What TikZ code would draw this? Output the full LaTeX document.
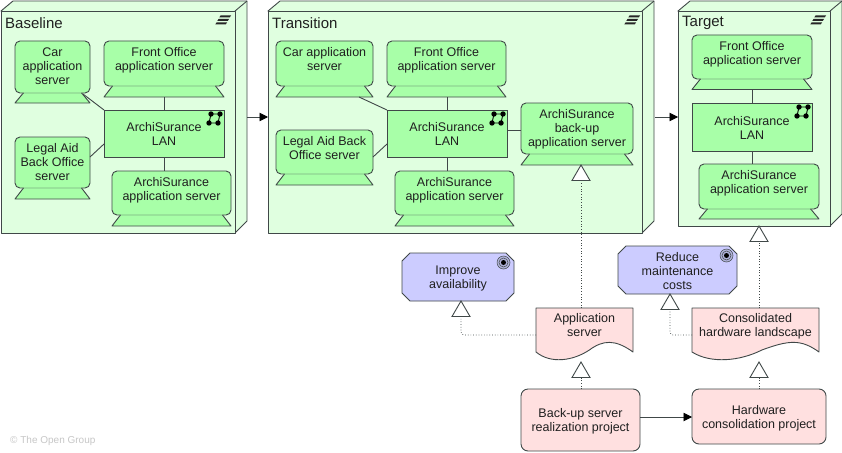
\documentclass[tikz,border=0pt]{standalone}
\usepackage{fontspec}
\setmainfont{Liberation Sans}
\usetikzlibrary{calc,fit,arrows.meta}
\definecolor{nodefill}{HTML}{E0FFE0}
\definecolor{devfill}{HTML}{A8FFA8}
\definecolor{goalfill}{HTML}{CCCCFF}
\definecolor{implfill}{HTML}{FFE0E0}
\definecolor{ink}{HTML}{404848}
\definecolor{txt}{HTML}{202020}
\tikzset{
  frame/.style={inner sep=0pt,outer sep=0pt},
  edge3d/.style={draw=ink,line width=0.9pt,line join=round},
  label3d/.style={font=\fontsize{15}{17}\selectfont,text=txt,anchor=west,inner sep=0pt},
  lbl/.style={font=\fontsize{12.5}{14}\selectfont,text=txt,align=center,inner sep=0pt},
  toplbl/.style={lbl,anchor=north},
  conn/.style={draw=ink,line width=0.9pt},
  flow/.style={conn,-{Triangle[length=8.5pt,width=8.5pt,fill=black,color=black]}},
  real/.style={draw=ink,line width=0.7pt,dotted},
  tri/.style={draw=ink,line width=0.9pt,fill=white,line join=miter},
}
% \nodebox{name}{x1}{y1}{x2}{y2}{title}
\newcommand{\nodebox}[6]{%
  \path[edge3d,fill=nodefill] (#2,#3) -- (#2+12,#3-10) -- (#4+12,#3-10) -- (#4+12,#5-12) -- (#4,#5) -- cycle;
  \draw[edge3d] (#4,#3) -- (#4+12,#3-10);
  \path[edge3d,fill=nodefill] (#2,#3) rectangle (#4,#5);
  \node[frame,fit={(#2,#3)(#4,#5)}] (#1) {};
  \node[label3d] (#1-title) at (#2+4,#3+12) {#6};
}
\newcommand{\nodeicon}[2]{%
  \fill[black!85] (#1-15,#2) ++(4.5,0) -- ++(10.5,0) -- ++(-1.2,1.8) -- ++(-10.5,0) -- cycle;
  \fill[black!85] (#1-15,#2+3.5) ++(2.5,0) -- ++(10.5,0) -- ++(-1.2,1.8) -- ++(-10.5,0) -- cycle;
  \fill[black!85] (#1-15,#2+7) ++(0.5,0) -- ++(10.5,0) -- ++(-1.2,1.8) -- ++(-10.5,0) -- cycle;
}
% \device{name}{x1}{y1}{x2}{bodybottom}{bottom}{text}
\newcommand{\device}[7]{%
  \path[draw=ink,line width=0.9pt,fill=devfill,line join=round] (#2+10,#5-2) -- (#2,#6) -- (#4,#6) -- (#4-10,#5-2) -- cycle;
  \path[draw=ink,line width=0.9pt,fill=devfill,rounded corners=5pt] (#2,#3) rectangle (#4,#5);
  \draw[devfill!85!ink,line width=1.2pt] (#2+9,#5) -- (#4-9,#5);
  \node[frame,fit={(#2,#3)(#4,#6)}] (#1) {};
  \node[toplbl] (#1-text) at ($(#1.north)+(0,6.5)$) {#7};
}
% \lan{name}{x1}{y1}{x2}{y2}
\newcommand{\lan}[5]{%
  \node[frame,draw=ink,line width=0.9pt,fill=devfill,fit={(#2,#3)(#4,#5)}] (#1) {};
  \node[lbl] (#1-text) at ($(#1.center)+(0,0.5)$) {ArchiSurance\\LAN};
  \draw[black,line width=0.9pt] (#4-4,#3+4) -- (#4-13,#3+4) -- (#4-15,#3+13) -- (#4-6,#3+13) -- (#4-4,#3+4);
  \fill[black] (#4-13,#3+4) circle (2.7pt) (#4-4,#3+4) circle (2.7pt) (#4-15,#3+13) circle (2.7pt) (#4-6,#3+13) circle (2.7pt);
}
% \goal{name}{x1}{y1}{x2}{y2}{text}
\newcommand{\goalbox}[6]{%
  \path[draw=ink,line width=0.9pt,fill=goalfill] (#2+8,#3) -- (#4-8,#3) -- (#4,#3+8) -- (#4,#5-8) -- (#4-8,#5) -- (#2+8,#5) -- (#2,#5-8) -- (#2,#3+8) -- cycle;
  \node[frame,fit={(#2,#3)(#4,#5)}] (#1) {};
  \node[lbl] (#1-text) at ($(#1.center)+(0,1.2)$) {#6};
  \draw[ink,line width=0.5pt,fill=goalfill!80!ink] (#4-10.5,#3+9.5) circle (6.5pt);
  \draw[ink,line width=0.5pt] (#4-10.5,#3+9.5) circle (4.5pt);
  \fill[black] (#4-10.5,#3+9.5) circle (2.5pt);
}
% \docbox{name}{x1}{y1}{x2}{y2}{text}
\newcommand{\docbox}[6]{%
  \path[draw=ink,line width=0.9pt,fill=implfill,line join=round] (#2,#3) -- (#4,#3) -- (#4,#5)
    .. controls (#4-18,#5-13) and (#4-30,#5-12) .. ($(#2,#5)!0.55!(#4,#5)+(0,-2)$)
    .. controls ($(#2,#5)!0.38!(#4,#5)+(0,9)$) and ($(#2,#5)!0.15!(#4,#5)+(0,12)$) .. (#2,#5) -- cycle;
  \node[frame,fit={(#2,#3)(#4,#5)}] (#1) {};
  \node[toplbl] (#1-text) at ($(#1.north)+(0,5.5)$) {#6};
}
\newcommand{\projbox}[6]{%
  \node[frame,draw=ink,line width=0.9pt,fill=implfill,rounded corners=7pt,fit={(#2,#3)(#4,#5)}] (#1) {};
  \node[lbl] (#1-text) at ($(#1.center)+(0,1.3)$) {#6};
}
% triangle with apex at named coordinate, pointing up
\newcommand{\uptri}[1]{%
  \path[tri] (#1) -- ++(9,15.5) -- ++(-18,0) -- cycle;
}
\begin{document}
\begin{tikzpicture}[x=1pt,y=-1pt]
\useasboundingbox[fill=white] (0,0) rectangle (842,452);

% ---------- Baseline ----------
\nodebox{baseline}{1}{11}{235}{233}{Baseline}
\nodeicon{231}{15.5}
\device{bcar}{15}{41}{90}{93}{103}{Car\\application\\server}
\device{bfront}{104}{41}{224}{86}{97}{Front Office\\application server}
\device{blegal}{15}{137}{90}{188}{199}{Legal Aid\\Back Office\\server}
\device{bas}{112}{171}{231}{215}{226}{ArchiSurance\\application server}
\lan{blan}{104}{110}{224}{157}
\draw[conn] ($(bcar.south east)+(-7,-9)$) -- (blan.north west);
\draw[conn] (bfront.south -| blan.north) -- (blan.north);
\draw[conn] ($(blegal.north east)+(0,20)$) -- ($(blan.west)+(0,10.5)$);
\draw[conn] (blan.south) -- (blan.south |- bas.north);

% ---------- Transition ----------
\nodebox{transition}{268}{11}{642}{233}{Transition}
\nodeicon{640}{15.5}
\device{tcar}{276}{41}{373}{86}{97}{Car application\\server}
\device{tfront}{387}{41}{506}{86}{97}{Front Office\\application server}
\device{tlegal}{276}{130}{373}{174}{185}{Legal Aid Back\\Office server}
\device{tas}{395}{171}{514}{215}{226}{ArchiSurance\\application server}
\device{tbackup}{521}{103}{633}{154}{165}{ArchiSurance\\back-up\\application server}
\lan{tlan}{387}{110}{507}{157}
\draw[conn] ($(tcar.south)+(34.5,0)$) -- (tlan.north west);
\draw[conn] (tfront.south -| tlan.north) -- (tlan.north);
\draw[conn] ($(tlegal.north east)+(0,27)$) -- ($(tlan.west)+(0,10.5)$);
\draw[conn] (tlan.south) -- (tlan.south |- tas.north);
\draw[conn] ($(tlan.east)+(0,-3.5)$) -- ($(tbackup.west)+(0,-4)$);

% ---------- Target ----------
\nodebox{target}{678}{11}{830}{226}{Target}
\nodeicon{826}{15.5}
\device{gfront}{692}{35}{812}{79}{89.5}{Front Office\\application server}
\device{gas}{699}{164}{819}{209}{219}{ArchiSurance\\application server}
\lan{glan}{692}{103}{812}{151}
\draw[conn] (gfront.south) -- (gfront.south |- glan.north);
\draw[conn] (glan.south) -- (glan.south |- gas.north);

% ---------- Motivation + implementation ----------
\goalbox{improve}{402}{253}{514}{301}{Improve\\availability}
\goalbox{reduce}{618}{246}{737}{294}{Reduce\\maintenance\\costs}
\docbox{appsrv}{536}{308}{633}{352}{Application\\server}
\docbox{consol}{692}{308}{819}{352}{Consolidated\\hardware landscape}
\projbox{bproj}{521}{389}{640}{451}{Back-up server\\realization project}
\projbox{hproj}{692}{389}{826}{444}{Hardware\\consolidation project}

% ---------- flows ----------
\draw[flow] (baseline.east |- 247,117) ++(12,0) -- (transition.west |- 268,117);
\draw[flow] (transition.east |- 655,117) ++(13,0) -- (target.west |- 677,117);
\draw[flow] (bproj.east |- 640,417) -- (hproj.west |- 692,417);

% ---------- realization ----------
\coordinate (imp) at ($(improve.south)+(3,0)$);
\coordinate (red) at ($(reduce.south)+(-7.5,0)$);
\coordinate (tgt) at ($(target.south)+(5,0)$);
\coordinate (bak) at ($(tbackup.south)+(4,0)$);
\draw[real] (appsrv.north -| bak) -- (bak);
\draw[real] (consol.north -| tgt) -- (tgt);
\draw[real,rounded corners=3pt] (appsrv.west |- 536,335) -- (imp |- 536,335) -- (imp);
\draw[real,rounded corners=3pt] (consol.west |- 692,335) -- (red |- 692,335) -- (red);
\coordinate (aps) at ($(appsrv.south -| bak)+(0,10)$);
\coordinate (cos) at ($(consol.south -| tgt)+(0,10)$);
\draw[real] (bproj.north -| bak) -- (aps);
\draw[real] (hproj.north -| tgt) -- (cos);
\uptri{bak}
\uptri{tgt}
\uptri{imp}
\uptri{red}
\uptri{aps}
\uptri{cos}

\node[font=\fontsize{10}{12}\selectfont,text=black!22,anchor=west,inner sep=0pt] (copyright) at (10,441) {© The Open Group};
\end{tikzpicture}
\end{document}
